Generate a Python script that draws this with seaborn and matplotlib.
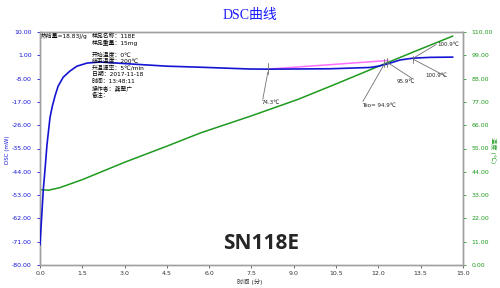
import numpy as np
import pandas as pd
import matplotlib
matplotlib.use("Agg")
import matplotlib.pyplot as plt
import seaborn as sns

# ---- data ----
dsc_time = [0.0, 0.03, 0.06, 0.117, 0.177, 0.248, 0.355, 0.436, 0.53, 0.64, 0.82, 1.06,
            1.31, 1.67, 2.13, 3.3, 4.5, 5.67, 7.45, 8.08, 10.3, 11.7, 12.0, 12.3, 12.77,
            13.23, 13.83, 14.64]
dsc_value = [-72.3, -66.5, -61.3, -50.9, -43.2, -33.5, -23.0, -18.7, -14.8, -11.0, -7.5, -5.1,
             -3.2, -2.0, -1.6, -2.4, -3.2, -3.6, -4.3, -4.35, -4.2, -3.7, -3.2, -2.4, -0.8,
             -0.1, 0.2, 0.3]

temp_time = [0.0, 0.3, 0.7, 1.5, 3.0, 4.5, 5.7, 7.45, 9.15, 10.5, 11.95, 13.3, 14.64]
temp_value = [35.6, 35.3, 36.5, 40.3, 48.5, 56.1, 62.4, 70.2, 78.2, 85.5, 93.5, 100.9, 108.1]

base_time = [8.08, 12.35]
base_value = [-4.35, -1.0]

dsc_ticks = [10, 1, -8, -17, -26, -35, -44, -53, -62, -71, -80]
temp_ticks = [0, 11, 22, 33, 44, 55, 66, 77, 88, 99, 110]
time_ticks = [0.0, 1.5, 3.0, 4.5, 6.0, 7.5, 9.0, 10.5, 12.0, 13.5, 15.0]

info_left = "热焓量=18.83J/g"
info_lines_a = ["样品名称：118E", "样品重量：15mg"]
info_lines_b = ["开始温度：0℃", "结束温度：200℃", "升温速率：5℃/min", "日期：2017-11-18",
                "时间：13:48:11", "操作者：龚翠广", "备注："]

sns.set_style("white")
plt.rcParams['font.family'] = ['DejaVu Sans', 'Noto Sans CJK SC']
plt.rcParams['axes.unicode_minus'] = False

fig = plt.figure(figsize=(5, 2.88), dpi=100)
ax = fig.add_axes([40/500, 23/288, 423/500, 233/288])
ax2 = ax.twinx()

BLUE = "#1414d2"
GREEN = "#1f9a1f"
GRAY = "#a0a0a0"

df_dsc = pd.DataFrame({"t": dsc_time, "v": dsc_value})
df_tmp = pd.DataFrame({"t": temp_time, "v": temp_value})
df_base = pd.DataFrame({"t": base_time, "v": base_value})

sns.lineplot(data=df_tmp, x="t", y="v", ax=ax2, color=GREEN, lw=1.1, zorder=2)
sns.lineplot(data=df_base, x="t", y="v", ax=ax, color="#ff70ff", lw=1.1, zorder=3)
sns.lineplot(data=df_dsc, x="t", y="v", ax=ax, color=BLUE, lw=1.2, zorder=4)

ax.set_zorder(ax2.get_zorder() + 1)
ax.patch.set_visible(False)

ax.set_xlim(0, 15)
ax.set_ylim(-80, 10)
ax2.set_ylim(0, 110)
ax.set_xticks(time_ticks)
ax.set_xticklabels([f"{t:.1f}" for t in time_ticks], fontsize=4.5, color="#333333")
ax.set_yticks(dsc_ticks)
ax.set_yticklabels([f"{v:.2f}" for v in dsc_ticks], fontsize=4.5, color=BLUE)
ax2.set_yticks(temp_ticks)
ax2.set_yticklabels([f"{v:.2f}" for v in temp_ticks], fontsize=4.5, color=GREEN)

ax.tick_params(axis="y", length=2, width=0.6, color=BLUE, pad=4, left=True)
ax.tick_params(axis="x", length=2, width=0.6, color="#555555", pad=2, bottom=True)
ax2.tick_params(axis="y", length=2, width=0.6, color=GREEN, pad=4, right=True)

for a in (ax, ax2):
    for s in a.spines.values():
        s.set_color(GRAY)
        s.set_linewidth(1.0)
        s.set_visible(True)

ax.set_xlabel("")
ax.set_ylabel("")
ax2.set_ylabel("")

fig.text(8/500, 1 - 150/288, "DSC (mW)", rotation=90, color=BLUE, fontsize=4,
         ha="center", va="center")
fig.text(493/500, 1 - 150/288, "温度 (℃)", rotation=270, color=GREEN, fontsize=4.5,
         ha="center", va="center")
fig.text(250/500, 1 - 282/288, "时间 (分)", color="#333333", fontsize=4.5,
         ha="center", va="center")
fig.text(250/500, 1 - 16/288, "DSC曲线", color="#1a1aff", fontsize=10,
         ha="center", va="center", family=["Liberation Serif", "Noto Sans CJK SC"])

# info block (pixel -> figure fraction)
def ftext(x, y, s, **kw):
    fig.text(x/500, 1 - y/288, s, fontsize=4.2, color="black", ha="left", va="center",
             family=["DejaVu Sans", "Noto Sans CJK SC"], **kw)

ftext(41, 36, info_left)
for i, s in enumerate(info_lines_a):
    ftext(92, 36 + i*7, s)
for i, s in enumerate(info_lines_b):
    ftext(92, 54 + i*6.8, s)

# annotations (data coords)
lc = "#707070"
def vtick(t, v0, v1):
    ax.plot([t, t], [v0, v1], color=lc, lw=0.6, zorder=5)

vtick(8.08, -2.0, -6.3)
ax.plot([8.08, 7.9], [-5.5, -16.0], color=lc, lw=0.6, zorder=5)
ax.text(7.85, -17.4, "74.3℃", fontsize=4, ha="left", va="center")

vtick(12.2, -0.6, -3.7)
ax.plot([12.2, 11.45], [-2.6, -16.8], color=lc, lw=0.6, zorder=5)
ax.text(11.42, -18.4, "Teo= 94.9℃", fontsize=4, ha="left", va="center")

vtick(12.3, -0.2, -3.4)
ax.plot([12.3, 13.2], [-1.6, -8.0], color=lc, lw=0.6, zorder=5)
ax.text(13.3, -9.2, "95.9℃", fontsize=4, ha="right", va="center")

vtick(13.23, 0.9, -1.8)
ax.plot([13.23, 14.4], [-0.5, -7.2], color=lc, lw=0.6, zorder=5)
ax.text(14.43, -6.9, "100.9℃", fontsize=4, ha="right", va="center")

ax.plot([13.3, 14.05], [0.3, 5.2], color=lc, lw=0.6, zorder=5)
ax.text(14.08, 5.0, "100.9℃", fontsize=4, ha="left", va="center")

ax.text(7.85, -71.8, "SN118E", fontsize=15, fontweight="bold", ha="center", va="center",
        family=["Open Sans", "DejaVu Sans"])

fig.savefig("out.png", dpi=100)
